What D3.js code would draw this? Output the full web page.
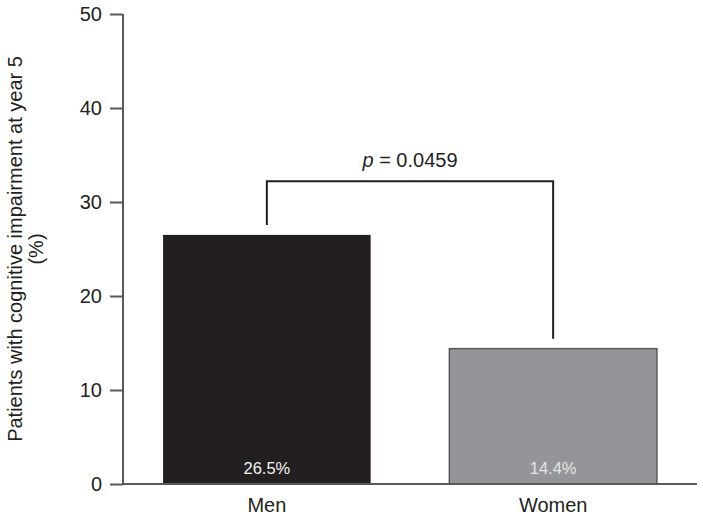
<!DOCTYPE html>
<html lang="en">
<head>
<meta charset="UTF-8">
<title>Cognitive impairment at year 5</title>
<style>
  body { margin: 0; background: #fff; }
  svg text { font-family: "Liberation Sans", Arial, sans-serif; fill: #231f20; }
  .axis path, .axis line { stroke: #58595b; stroke-width: 2px; }
  .axis text { font-size: 20px; fill: #231f20; }
</style>
</head>
<body>
<div id="chart"></div>
<script src="https://d3js.org/d3.v7.min.js"></script>
<script>
  const categories = ["Men", "Women"];
  const values = [26.5, 14.4];
  const valueLabels = ["26.5%", "14.4%"];
  const barColors = ["#231f20", "#939598"];
  const yTicks = [0, 10, 20, 30, 40, 50];
  const pLabel = "0.0459";
  const bracketLevel = 32.2;

  const width = 703, height = 520;
  const margin = { top: 14, right: 6, bottom: 36, left: 123 };

  const svg = d3.select("#chart").append("svg")
    .attr("width", width)
    .attr("height", height);

  const x = d3.scaleBand()
    .domain(categories)
    .range([margin.left, width - margin.right])
    .paddingInner(0.275)
    .paddingOuter(0.14);

  const y = d3.scaleLinear()
    .domain([0, 50])
    .range([height - margin.bottom, margin.top]);

  // bars
  svg.selectAll("rect.bar")
    .data(categories)
    .enter()
    .append("rect")
    .attr("class", "bar")
    .attr("x", d => x(d))
    .attr("width", x.bandwidth())
    .attr("y", (d, i) => y(values[i]))
    .attr("height", (d, i) => y(0) - y(values[i]))
    .attr("fill", (d, i) => barColors[i])
    .attr("stroke", (d, i) => i === 1 ? "#58595b" : "none")
    .attr("stroke-width", 1.5);

  svg.selectAll("text.val")
    .data(categories)
    .enter()
    .append("text")
    .attr("class", "val")
    .attr("x", d => x(d) + x.bandwidth() / 2)
    .attr("y", y(0) - 10)
    .attr("text-anchor", "middle")
    .style("font-size", "16.5px")
    .style("fill", (d, i) => i === 0 ? "#f2f2f2" : "#e6e6e6")
    .text((d, i) => valueLabels[i]);

  // y axis
  const yAxis = svg.append("g")
    .attr("class", "axis")
    .attr("transform", `translate(${margin.left},0)`)
    .call(d3.axisLeft(y).tickValues(yTicks).tickSize(13).tickPadding(8).tickSizeOuter(0));
  yAxis.select(".domain").attr("d", `M0,${y(50)}V${y(0)}`);

  // x axis
  const xAxis = svg.append("g")
    .attr("class", "axis")
    .attr("transform", `translate(0,${y(0)})`)
    .call(d3.axisBottom(x).tickSize(0).tickPadding(14));
  xAxis.select(".domain").attr("d", `M${margin.left},0H${width - margin.right}`);

  // y label
  const yl = svg.append("text")
    .attr("transform", `translate(22,${y(25)}) rotate(-90)`)
    .attr("text-anchor", "middle")
    .style("font-size", "20px");
  yl.append("tspan").attr("x", 0).attr("y", 0).text("Patients with cognitive impairment at year 5");
  yl.append("tspan").attr("x", 0).attr("y", 21).text("(%)");

  // significance bracket
  const cx = categories.map(d => x(d) + x.bandwidth() / 2);
  const bracketY = y(bracketLevel);
  svg.append("path")
    .attr("d", `M${cx[0]},${y(values[0]) - 10}V${bracketY}H${cx[1]}V${y(values[1]) - 10}`)
    .attr("fill", "none")
    .attr("stroke", "#231f20")
    .attr("stroke-width", 2);

  const pt = svg.append("text")
    .attr("x", (cx[0] + cx[1]) / 2)
    .attr("y", bracketY - 14)
    .attr("text-anchor", "middle")
    .style("font-size", "20px");
  pt.append("tspan").style("font-style", "italic").text("p");
  pt.append("tspan").text(" = " + pLabel);
</script>
</body>
</html>
